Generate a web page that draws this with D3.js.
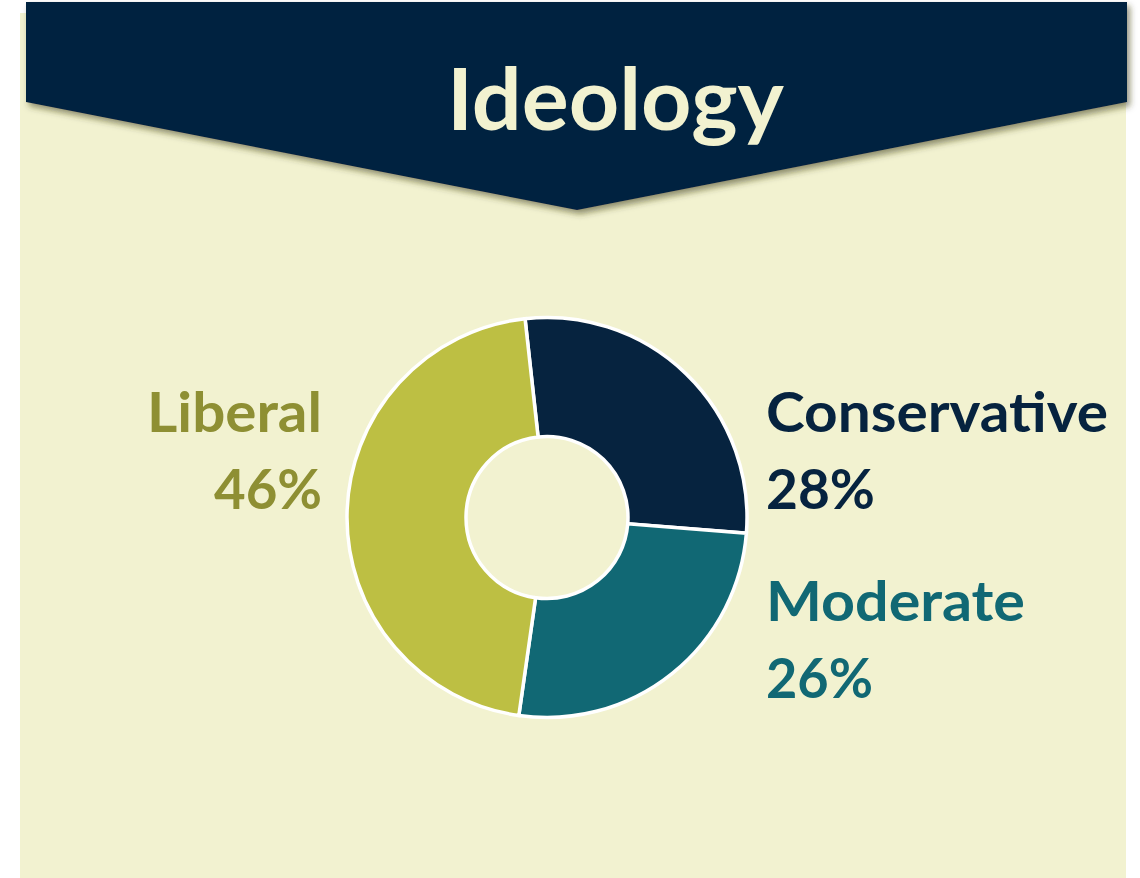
<!DOCTYPE html>
<html>
<head>
<meta charset="utf-8">
<script src="https://cdn.jsdelivr.net/npm/d3@7"></script>
<style>
  html, body { margin: 0; padding: 0; background: #ffffff; }
  svg { display: block; }
</style>
</head>
<body>
<svg id="chart" width="1140" height="878"></svg>
<script>
// Survey share by ideology
const categories = ["Conservative", "Moderate", "Liberal"];
const values = [28, 26, 46];
const sliceColors = ["#06233F", "#116874", "#BDBF43"];
const labelColors = ["#06233F", "#116874", "#8E8F33"];
const title = "Ideology";

const svg = d3.select("#chart");
const defs = svg.append("defs");

const shadow = defs.append("filter").attr("id", "bannerShadow")
  .attr("x", "-5%").attr("y", "-10%").attr("width", "110%").attr("height", "130%");
shadow.append("feDropShadow")
  .attr("dx", 3).attr("dy", 4).attr("stdDeviation", 3)
  .attr("flood-color", "#3a3a10").attr("flood-opacity", 0.55);

// cream panel
svg.append("rect")
  .attr("x", 20).attr("y", 13).attr("width", 1106).attr("height", 865)
  .attr("fill", "#F2F2D0");

// chevron banner
const banner = d3.path();
banner.moveTo(26, 2);
banner.lineTo(1127, 2);
banner.lineTo(1127, 102);
banner.lineTo(577, 210);
banner.lineTo(26, 102);
banner.closePath();
svg.append("path")
  .attr("d", banner.toString())
  .attr("fill", "#06223F")
  .attr("filter", "url(#bannerShadow)");

svg.append("text")
  .attr("x", 447).attr("y", 130)
  .attr("font-family", "Lato, 'Open Sans', sans-serif")
  .attr("font-weight", 700)
  .attr("font-size", 86)
  .attr("textLength", 337)
  .attr("lengthAdjust", "spacingAndGlyphs")
  .attr("fill", "#F2F2D0")
  .text(title);

// donut
const cx = 547, cy = 517.5;
const outerR = 200, innerR = 81;
const startAngle = -6.3 * Math.PI / 180;

const pie = d3.pie()
  .sort(null)
  .value(d => d.value)
  .startAngle(startAngle)
  .endAngle(startAngle + 2 * Math.PI);

const arc = d3.arc().innerRadius(innerR).outerRadius(outerR);

const data = categories.map((c, i) => ({ name: c, value: values[i], color: sliceColors[i], label: labelColors[i] }));

const g = svg.append("g").attr("transform", `translate(${cx},${cy})`);
g.selectAll("path.slice")
  .data(pie(data))
  .join("path")
  .attr("class", "slice")
  .attr("d", arc)
  .attr("fill", d => d.data.color)
  .attr("stroke", "#ffffff")
  .attr("stroke-width", 3.5)
  .attr("stroke-linejoin", "miter");

// labels: name on first line, percentage below
const labelLayout = {
  Conservative: { x: 766, y: 432, anchor: "start", w1: 342, w2: 109 },
  Moderate:     { x: 766, y: 621, anchor: "start", w1: 259, w2: 107 },
  Liberal:      { x: 322, y: 432, anchor: "end",   w1: 175, w2: 108 }
};
const lineGap = 77;

data.forEach(d => {
  const p = labelLayout[d.name];
  const t = svg.append("g").attr("fill", d.label)
    .attr("font-family", "Lato, 'Open Sans', sans-serif")
    .attr("font-weight", 700)
    .attr("font-size", 56)
    .attr("text-anchor", p.anchor);
  t.append("text")
    .attr("x", p.x).attr("y", p.y)
    .attr("textLength", p.w1).attr("lengthAdjust", "spacingAndGlyphs")
    .text(d.name);
  t.append("text")
    .attr("x", p.x).attr("y", p.y + lineGap)
    .attr("textLength", p.w2).attr("lengthAdjust", "spacingAndGlyphs")
    .text(d3.format("d")(d.value) + "%");
});
</script>
</body>
</html>
